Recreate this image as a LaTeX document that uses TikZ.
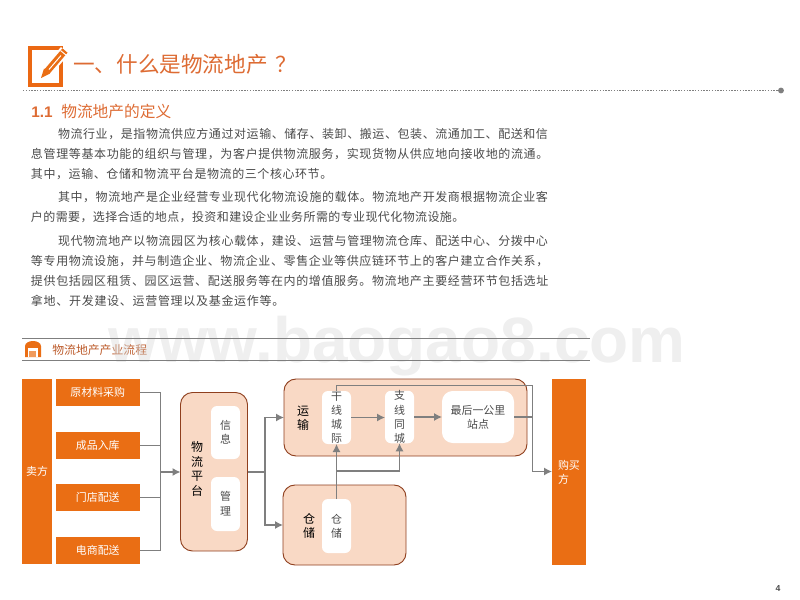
\documentclass[tikz,border=0pt]{standalone}
\usepackage{fontspec}
\setmainfont{Noto Sans CJK SC}
\newfontfamily\latinbold{Liberation Sans}
\usetikzlibrary{arrows.meta}
\definecolor{orangebox}{HTML}{EA6E14}
\definecolor{peach}{HTML}{F9D9C5}
\definecolor{peachline}{HTML}{8F3F1E}
\definecolor{linegray}{HTML}{7F7F7F}
\definecolor{titleorange}{HTML}{DD6B33}
\definecolor{bodygray}{HTML}{4A4A4A}
\definecolor{markgray}{HTML}{D8D8D8}
\makeatletter
\newcommand{\spreadchars}[1]{\@tfor\sc@c:=#1\do{\sc@c\hskip 0pt plus 1fil}\unskip}
\makeatother
\newcommand{\bx}[7]{\node[#2,inner sep=0pt,outer sep=0pt,minimum width={(#5-#3)*0.75pt},minimum height={(#6-#4)*0.75pt}] (#1) at ({(#3+#5)/2},{(#4+#6)/2}) {#7};}
\newcommand{\tline}[5]{\node[bodytext,anchor=west] (#1) at (#2,#3) {\hbox to #4{\spreadchars{#5}}};}
\tikzset{
  orangerect/.style={fill=orangebox,text=white,font=\fontsize{8.2pt}{10.5pt}\selectfont,align=center},
  peachbox/.style={fill=peach,draw=peachline,line width=0.7pt,rounded corners=9pt},
  whitebox/.style={fill=white,rounded corners=4.5pt,text=bodygray,font=\fontsize{8.2pt}{10.6pt}\selectfont,align=center},
  grouplabel/.style={font=\fontsize{9pt}{10.6pt}\selectfont,text=black,align=center,inner sep=0pt},
  bodytext/.style={font=\fontsize{9pt}{11pt}\selectfont,text=bodygray,inner sep=0pt,outer sep=0pt},
  conn/.style={draw=linegray,line width=0.95pt},
  arr/.style={conn,-{Latex[length=6pt,width=6pt]}}
}
\begin{document}
\begin{tikzpicture}[x=0.75pt,y=-0.75pt]
\useasboundingbox (0,0) rectangle (800,600);
% title icon
\draw[draw=orangebox!95!red,line width=3.2pt] (30,48) rectangle (61,85);
\draw[white,line width=8pt] (47,71.5) -- (65,50.5);
\draw[orangebox,line width=5pt] (47,71.5) -- (65,50.5);
\draw[white,line width=0.7pt] (49,69.5) -- (61,55.5);
\draw[white,line width=0.7pt] (60.5,50.5) -- (66,55);
\fill[orangebox] (41,78) -- (44,68.5) -- (50,73.5) -- cycle;
\node[anchor=west,inner sep=0pt,text=titleorange,font=\fontsize{16.2pt}{18pt}\selectfont] (title) at (73,64) {一、什么是物流地产\hspace{6pt}？};
% dotted rule
\coordinate (ruleL) at (23,90.5);
\node[circle,fill=linegray,inner sep=0pt,minimum size=4.4pt] (ruleR) at (781,90.5) {};
\draw[linegray,line width=0.9pt,dash pattern=on 1pt off 1.1pt] (ruleL) -- (ruleR);
% subtitle
\node[anchor=west,inner sep=0pt,text=titleorange,font=\latinbold\bfseries\fontsize{11.5pt}{13pt}\selectfont] (subnum) at (31,112) {1.1};
\node[anchor=west,inner sep=0pt,text=titleorange,font=\fontsize{11.8pt}{13pt}\selectfont] (subtitle) at (61,112) {物流地产的定义};
% body
\tline{a1}{58}{134}{367.5pt}{物流行业，是指物流供应方通过对运输、储存、装卸、搬运、包装、流通加工、配送和信}
\tline{a2}{31}{154}{388pt}{息管理等基本功能的组织与管理，为客户提供物流服务，实现货物从供应地向接收地的流通。}
\tline{a3}{31}{174}{226pt}{其中，运输、仓储和物流平台是物流的三个核心环节。}
\tline{b1}{58}{197}{367.5pt}{其中，物流地产是企业经营专业现代化物流设施的载体。物流地产开发商根据物流企业客}
\tline{b2}{31}{217}{325pt}{户的需要，选择合适的地点，投资和建设企业业务所需的专业现代化物流设施。}
\tline{c1}{58}{241}{367.5pt}{现代物流地产以物流园区为核心载体，建设、运营与管理物流仓库、配送中心、分拨中心}
\tline{c2}{31}{261}{388pt}{等专用物流设施，并与制造企业、物流企业、零售企业等供应链环节上的客户建立合作关系，}
\tline{c3}{31}{281}{388pt}{提供包括园区租赁、园区运营、配送服务等在内的增值服务。物流地产主要经营环节包括选址}
\tline{c4}{31}{301}{190pt}{拿地、开发建设、运营管理以及基金运作等。}
% header band
\fill[orangebox] (25,357) -- (25,346) .. controls (25,343) and (29,341) .. (33,341) .. controls (37,341) and (41,343) .. (41,346) -- (41,357) -- cycle;
\fill[white] (28,348) rectangle (38,357);
\fill[orangebox!70] (29,351) rectangle (36,357);
\node[anchor=west,inner sep=0pt,text=titleorange!85!black,font=\fontsize{8.9pt}{11pt}\selectfont] (bandtitle) at (52,350) {物流地产产业流程};
% watermark
\node[anchor=base west,inner sep=0pt,text=markgray,opacity=0.42,font=\latinbold\bfseries\fontsize{48pt}{50pt}\selectfont] (watermark) at (108,362) {www.baogao8.com};
\draw[linegray,line width=0.7pt] (22,338.5) -- (590,338.5);
\draw[linegray,line width=0.7pt] (22,360.5) -- (590,360.5);
% flow boxes
\bx{seller}{orangerect}{22}{379}{52}{564}{卖方}
\bx{s1}{orangerect}{55.5}{379}{140}{406}{原材料采购}
\bx{s2}{orangerect}{55.5}{432}{140}{459}{成品入库}
\bx{s3}{orangerect}{55.5}{484}{140}{511}{门店配送}
\bx{s4}{orangerect}{55.5}{537}{140}{564}{电商配送}
\bx{platform}{peachbox}{180.5}{392.5}{247.5}{551}{}
\node[grouplabel,font=\fontsize{9pt}{11pt}\selectfont] (platformlabel) at (197,469) {物\\流\\平\\台};
\bx{info}{whitebox}{211}{406}{240}{459}{信\\息}
\bx{manage}{whitebox,font=\fontsize{8.2pt}{11.2pt}\selectfont}{211}{477}{240}{531}{管\\理}
\bx{transport}{peachbox}{284}{379}{527}{456}{}
\node[grouplabel] (transportlabel) at (303,418.5) {运\\输};
\bx{storage}{peachbox}{283}{485}{406}{565}{}
\node[grouplabel] (storagelabel) at (309,525.5) {仓\\储};
\bx{trunk}{whitebox}{322}{391}{351}{444}{干\\线\\城\\际}
\bx{branch}{whitebox}{385}{391}{414}{443}{支\\线\\同\\城}
\bx{last}{whitebox,rounded corners=8pt}{442}{391}{514}{443}{最后一公里\\站点}
\bx{store}{whitebox}{322}{499}{351}{553}{仓\\储}
\bx{buyer}{orangerect}{552}{379}{586}{565}{\hbox to 16.5pt{购买\hfil}\\\hbox to 16.5pt{方\hfil}}
% connectors
\coordinate (busL) at (160.5,472);
\draw[conn] (s1.east) -| (busL);
\draw[conn] (s4.east) -| (busL);
\draw[conn] (s2.east) -- (s2.east -| busL);
\draw[conn] (s3.east) -- (s3.east -| busL);
\draw[arr] (busL) -- (busL -| platform.west);
\coordinate (busR) at (265,472);
\draw[conn] (busR -| platform.east) -- (busR);
\draw[arr] (busR) |- (transport.west);
\draw[arr] (busR) |- (storage.west);
\draw[arr] (trunk.east) -- (trunk.east -| branch.west);
\draw[arr] (branch.east) -- (last.west);
\coordinate (busB) at (532.5,471.5);
\coordinate (topT) at (336.5,385.5);
\draw[conn] (last.east) -- (last.east -| busB);
\draw[conn] (trunk.north) -- (topT) -- (topT -| busB) -- (busB);
\draw[arr] (busB) -- (busB -| buyer.west);
\draw[arr] (store.north) -- (trunk.south);
\coordinate (split) at (336.5,471);
\draw[arr] (split) -| (branch.south);
% page number
\node[inner sep=0pt,text=bodygray,font=\latinbold\bfseries\fontsize{6.5pt}{8pt}\selectfont] (page) at (778,589) {4};
\end{tikzpicture}
\end{document}
